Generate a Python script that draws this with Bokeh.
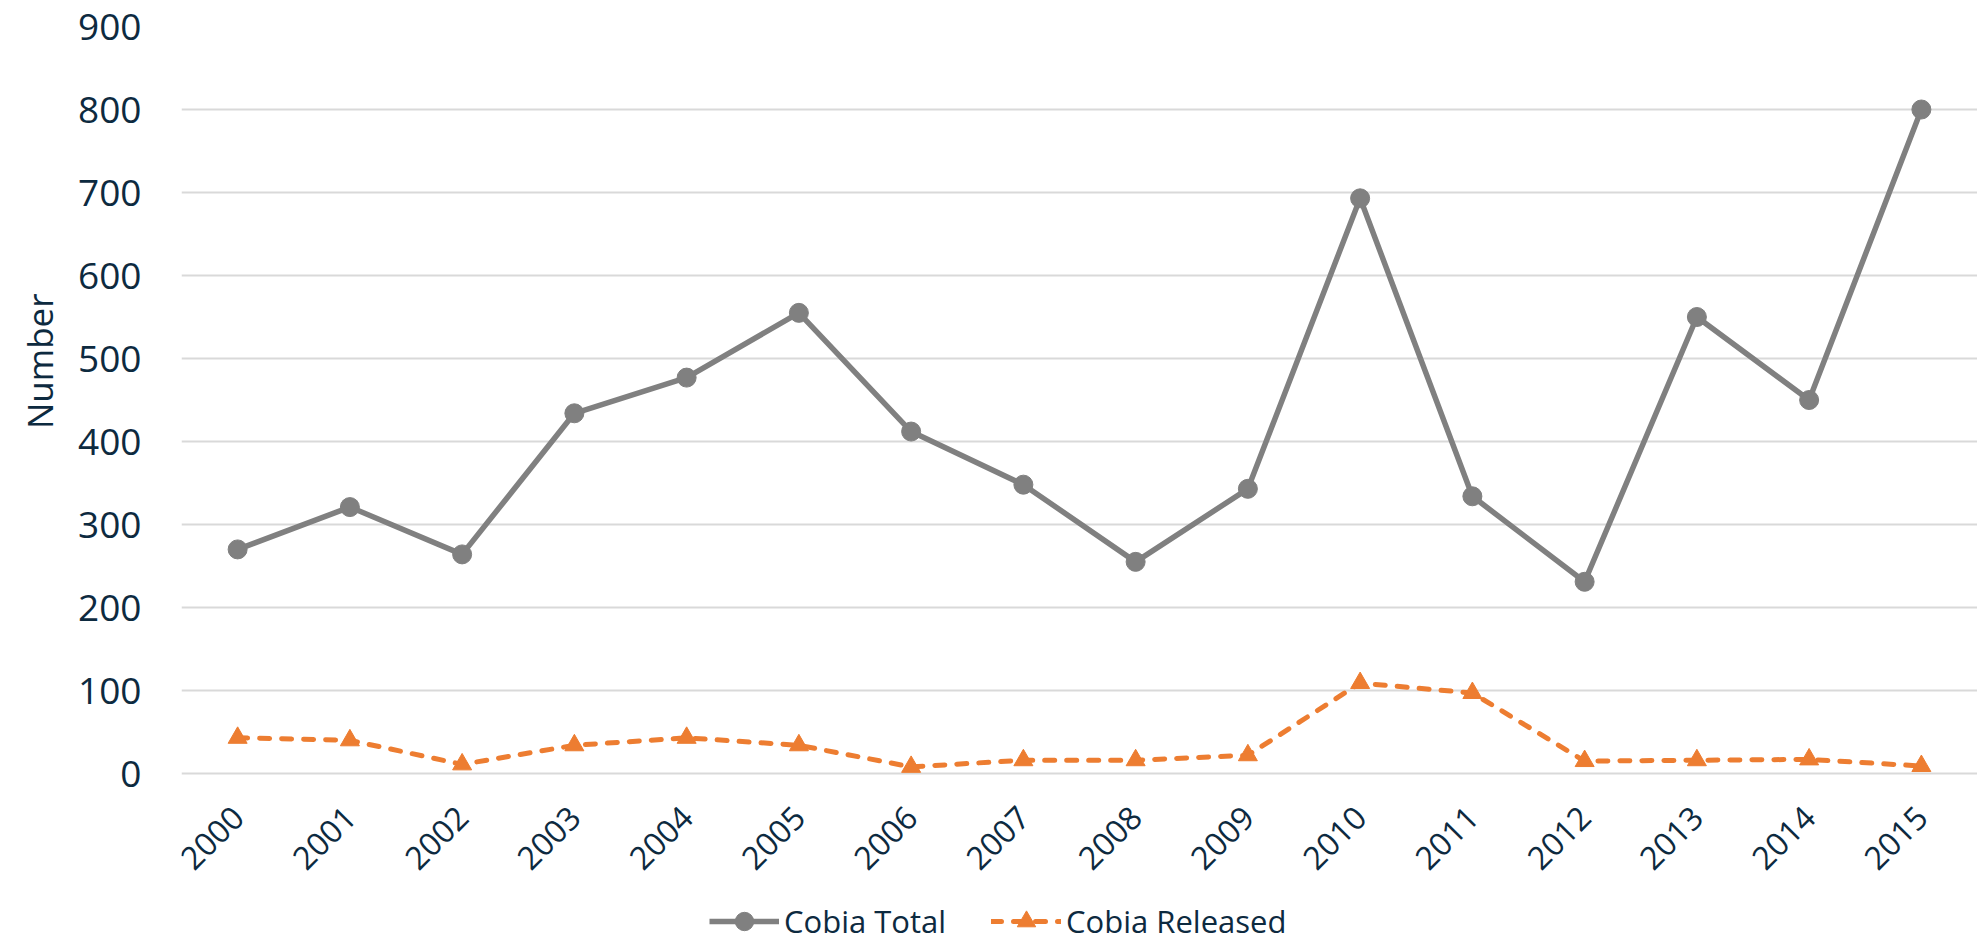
from math import pi
from bokeh.plotting import figure
from bokeh.models import (FactorRange, Range1d, FixedTicker, Legend, LegendItem,
                          Title, ColumnDataSource)
from bokeh.embed import file_html
from bokeh.resources import INLINE

years = ["2000", "2001", "2002", "2003", "2004", "2005", "2006", "2007",
         "2008", "2009", "2010", "2011", "2012", "2013", "2014", "2015"]
cobia_total = [270, 321, 264, 434, 477, 555, 412, 348, 255, 343, 693, 334, 231, 550, 450, 800]
cobia_released = [43, 40, 11, 34, 43, 34, 8, 16, 16, 22, 109, 97, 15, 16, 17, 9]
y_ticks = [0, 100, 200, 300, 400, 500, 600, 700, 800, 900]

TEXT = "#0D2A3F"
FONT = "Open Sans"

src = ColumnDataSource(dict(year=years, total=cobia_total, released=cobia_released))

# frame runs to the bottom edge; the area below 0 holds the year labels and legend
p = figure(width=1977, height=944, x_range=FactorRange(factors=years, range_padding=0),
           y_range=Range1d(-206, 900), output_backend="svg", toolbar_location=None,
           min_border_left=181, min_border_right=0, min_border_top=26,
           min_border_bottom=0, background_fill_color="white",
           border_fill_color="white")
p.outline_line_color = None

# grid
p.xgrid.grid_line_color = None
p.ygrid.grid_line_color = "#D9D9D9"
p.ygrid.grid_line_width = 2

# y axis
p.yaxis.ticker = FixedTicker(ticks=y_ticks)
p.yaxis.axis_line_color = None
p.yaxis.major_tick_line_color = None
p.yaxis.minor_tick_line_color = None
p.yaxis.major_label_standoff = 34
p.yaxis.major_label_text_font = FONT
p.yaxis.major_label_text_font_size = "37px"
p.yaxis.major_label_text_color = TEXT

# x axis drawn at y = 0
p.xaxis.fixed_location = 0
p.xaxis.axis_line_color = None
p.xaxis.major_tick_line_color = None
p.xaxis.major_label_orientation = pi / 4
p.xaxis.major_label_standoff = 32
p.xaxis.major_label_text_font = FONT
p.xaxis.major_label_text_font_size = "32px"
p.xaxis.major_label_text_color = TEXT

# series
l1 = p.line("year", "total", source=src, line_color="#808080", line_width=5.5,
            line_join="round")
m1 = p.scatter("year", "total", source=src, marker="circle", size=19,
               fill_color="#808080", line_color="#808080")
l2 = p.line("year", "released", source=src, line_color="#ED7D31", line_width=5,
            line_dash="10 12", line_cap="round", line_join="round")
m2 = p.scatter("year", "released", source=src, marker="triangle", size=19,
               fill_color="#ED7D31", line_color="#ED7D31")

# y axis title
p.add_layout(Title(text="Number", align="right", offset=267, standoff=26,
                   text_font=FONT, text_font_size="35px", text_font_style="normal",
                   text_color=TEXT), "left")

legend = Legend(items=[LegendItem(label="Cobia Total", renderers=[l1, m1]),
                       LegendItem(label="Cobia Released", renderers=[l2, m2])],
                location=(528, 0), orientation="horizontal",
                glyph_width=70, glyph_height=46, label_standoff=5, spacing=45,
                padding=0, margin=0, border_line_color=None,
                background_fill_alpha=0,
                label_text_font=FONT, label_text_font_size="31px",
                label_text_color=TEXT)
p.add_layout(legend, "center")

open("out.html", "w").write(file_html(p, INLINE))
